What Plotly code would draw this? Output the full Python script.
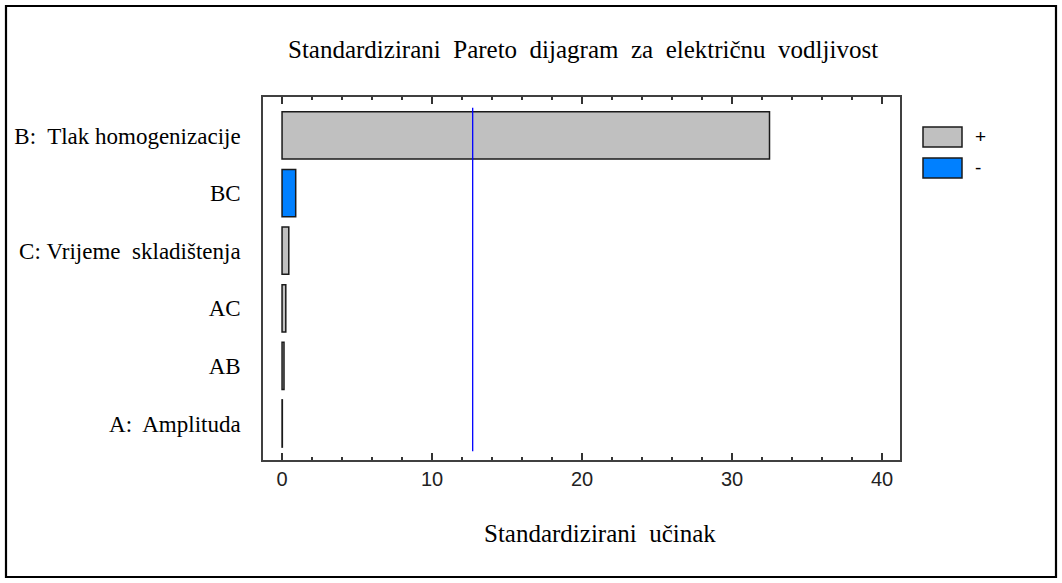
import plotly.graph_objects as go

# ---- data ----
factors = ["A:\u00a0 Amplituda", "AB", "AC", "C:\u00a0Vrijeme\u00a0 skladištenja", "BC", "B:\u00a0 Tlak homogenizacije"]
effects = [0.02, 0.13, 0.25, 0.45, 0.91, 32.5]
signs = ["+", "+", "+", "+", "-", "+"]
critical_value = 12.71
legend_labels = ["+", "-"]
title_text = "Standardizirani\u00a0 Pareto\u00a0 dijagram\u00a0 za\u00a0 električnu\u00a0 vodljivost"
xaxis_title = "Standardizirani\u00a0 učinak"
x_ticks = [0, 10, 20, 30, 40]

# ---- styles ----
W, H = 1062, 583
PL, PR, PT, PB = 263, 900, 97, 460  # plot area in pixels
sign_colors = {"+": "#C0C0C0", "-": "#0080FF"}
outline = "#1a1a1a"
serif = "Liberation Serif, Times New Roman, serif"
sans = "Liberation Sans Narrow, Liberation Sans, Arial, sans-serif"


def px(x):
    return (x - PL) / (PR - PL)


def py(y):
    return (PB - y) / (PB - PT)


fig = go.Figure()
fig.add_trace(go.Bar(
    x=effects,
    y=list(range(len(factors))),
    orientation="h",
    width=0.82,
    marker=dict(color=[sign_colors[s] for s in signs], line=dict(color=outline, width=1.5)),
    showlegend=False,
    hoverinfo="x+y",
))
fig.add_trace(go.Scatter(
    x=[critical_value, critical_value],
    y=[-0.48, 5.48],
    mode="lines",
    line=dict(color="#0000FF", width=1.3),
    showlegend=False,
))

shapes = [
    # outer frame
    dict(type="rect", xref="paper", yref="paper", x0=px(6), x1=px(1056), y0=py(577), y1=py(6),
         line=dict(color="black", width=2.2), fillcolor="rgba(0,0,0,0)", layer="below"),
]
annotations = []
legend_tops = [127, 158]
for lab, top in zip(legend_labels, legend_tops):
    shapes.append(dict(type="rect", xref="paper", yref="paper", x0=px(923), x1=px(962),
                       y0=py(top + 20), y1=py(top), fillcolor=sign_colors[lab],
                       line=dict(color=outline, width=1.5)))
    annotations.append(dict(text=lab, xref="paper", yref="paper", x=px(973), y=py(top + 9),
                            xanchor="left", yanchor="middle", showarrow=False,
                            font=dict(family=sans, size=19, color="black")))

annotations.append(dict(text=title_text, xref="paper", yref="paper", x=px(583), y=py(50),
                        xanchor="center", yanchor="middle", showarrow=False,
                        font=dict(family=serif, size=25, color="black")))
annotations.append(dict(text=xaxis_title, xref="paper", yref="paper", x=px(600), y=py(533),
                        xanchor="center", yanchor="middle", showarrow=False,
                        font=dict(family=serif, size=25, color="black")))

fig.update_layout(
    width=W, height=H,
    margin=dict(l=PL, r=W - PR, t=PT, b=H - PB, pad=0),
    paper_bgcolor="white", plot_bgcolor="white",
    shapes=shapes, annotations=annotations,
    bargap=0.18,
)
fig.update_xaxes(
    range=[-1.27, 41.2], tickvals=x_ticks, ticktext=[str(v) for v in x_ticks],
    ticks="inside", ticklen=7, tickwidth=1.5, tickcolor="#333",
    minor=dict(dtick=2, ticks="inside", ticklen=3, tickwidth=1.5, tickcolor="#333", showgrid=False),
    showline=True, linecolor="#404040", linewidth=1.5, mirror="ticks",
    showgrid=False, zeroline=False,
    tickfont=dict(family=sans, size=20, color="#222"),
)
fig.update_yaxes(
    range=[-0.634, 5.668], tickvals=list(range(len(factors))), ticktext=factors,
    ticks="", showline=True, linecolor="#404040", linewidth=1.5, mirror=True,
    showgrid=False, zeroline=False, ticklabelstandoff=16,
    tickfont=dict(family=serif, size=23, color="black"),
)

fig.write_html("out.html", config={"displayModeBar": False},
               post_script="document.body.style.margin='0';")
